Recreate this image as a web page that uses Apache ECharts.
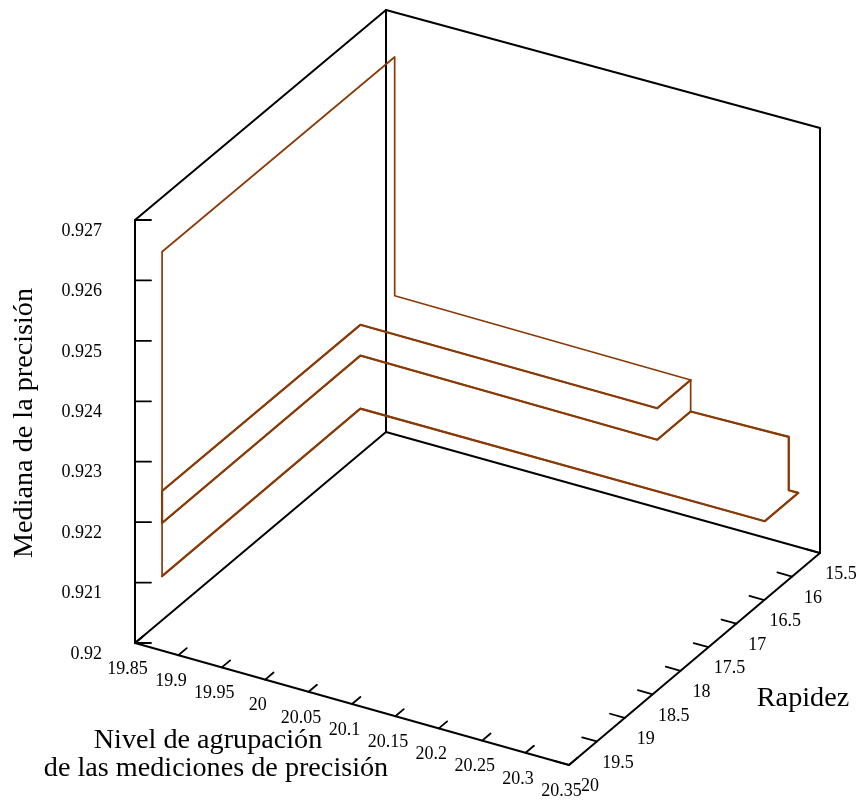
<!DOCTYPE html>
<html>
<head>
<meta charset="utf-8">
<style>html,body{margin:0;padding:0;background:#fff}#c{width:859px;height:800px}</style>
<script src="https://cdn.jsdelivr.net/npm/echarts@6/dist/echarts.min.js"></script>
</head>
<body>
<div id="c"></div>
<script>
// tick labels
const groupTicks = ['19.85','19.9','19.95','20','20.05','20.1','20.15','20.2','20.25','20.3','20.35'];
const speedTicks = ['20','19.5','19','18.5','18','17.5','17','16.5','16','15.5'];
const medianTicks = ['0.92','0.921','0.922','0.923','0.924','0.925','0.926','0.927'];

// the measured path, one array per dimension
const pathGroup  = [19.86,19.86,19.86,20.201,20.201,19.859,19.86,19.86,19.859,20.201,20.201,20.201,20.201,20.314,20.314,20.325,20.325,19.859,19.86,19.86];
const pathSpeed  = [19.67,15.5,15.5,15.5,16.1,16.1,19.67,19.67,16.1,16.1,15.5,15.5,15.5,15.5,15.5,15.5,16.1,16.1,19.67,19.67];
const pathMedian = [0.92626,0.92626,0.9223,0.92226,0.92226,0.92228,0.9223,0.92177,0.92177,0.92174,0.92174,0.92226,0.92174,0.92177,0.92089,0.92089,0.92089,0.92089,0.92089,0.92626];
// stretches of the path that are traced more than once (index range)
const retraced = [[3,10],[12,18]];

// 3D box, projected by interpolating between its eight screen corners
const G = [19.85,20.35], S = [20,15.5], M = [0.92,0.927];
const C = {
  '000':[135,643],'100':[569,765],'010':[386,432],'110':[820,553],
  '001':[135,220],'101':[569,341],'011':[386,10], '111':[820,128]
};
function project(g,s,m){
  const u=(g-G[0])/(G[1]-G[0]), v=(s-S[0])/(S[1]-S[0]), w=(m-M[0])/(M[1]-M[0]);
  const out=[0,0];
  for(const k in C){
    const f=(k[0]==='1'?u:1-u)*(k[1]==='1'?v:1-v)*(k[2]==='1'?w:1-w);
    out[0]+=f*C[k][0]; out[1]+=f*C[k][1];
  }
  return out;
}
const black='#000', brown='#8a3a06', serif='"Liberation Serif","Times New Roman",serif';
function line(pts,color,width){
  return {type:'line',data:pts,symbol:'none',silent:true,animation:false,clip:false,
    lineStyle:{color:color,width:width,cap:'round',join:'round',opacity:1}};
}
function text(items,size,extra){
  return {type:'scatter',symbolSize:0,silent:true,animation:false,clip:false,
    itemStyle:{opacity:1},
    data:items.map(i=>({value:[i[0],i[1]],name:i[2]})),
    label:Object.assign({show:true,position:'inside',formatter:p=>p.name,color:'#000',opacity:1,
      fontFamily:serif,fontSize:size,align:'center',verticalAlign:'middle'},extra||{})};
}
const corner=(a,b,c)=>project(G[a],S[b],M[c]);
const series=[];
// box edges
[[[0,0,1],[0,0,0],[1,0,0],[1,1,0],[1,1,1],[0,1,1],[0,0,1]],
 [[0,1,1],[0,1,0],[1,1,0]],[[0,1,0],[0,0,0]]].forEach(e=>{
  series.push(line(e.map(c=>corner(...c)),black,2));
});
// ticks + labels
const gl=[],sl=[],ml=[];
groupTicks.forEach(t=>{
  const a=project(+t,S[0],M[0]);
  series.push(line([a,project(+t,S[0]-0.15,M[0])],black,1.8));
  gl.push([a[0]-7.5,a[1]+26,t]);
});
speedTicks.forEach(t=>{
  const a=project(G[1],+t,M[0]);
  series.push(line([a,project(G[1]-0.017,+t,M[0])],black,1.8));
  sl.push([a[0]+21,a[1]+21.5,t]);
});
medianTicks.forEach(t=>{
  const a=project(G[0],S[0],+t);
  series.push(line([a,[a[0]+16,a[1]]],black,1.8));
  ml.push([a[0]-33,a[1]+11,t]);
});
series.push(text(gl,18),text(sl,18),text(ml,18,{align:'right'}));
// data path
const path=pathGroup.map((g,i)=>project(g,pathSpeed[i],pathMedian[i]));
series.push(line(path,brown,1.7));
retraced.forEach(r=>series.push(line(path.slice(r[0],r[1]+1),brown,2.2)));
// axis titles
series.push(text([[208,741,'Nivel de agrupación'],[216,769,'de las mediciones de precisión'],[803,699,'Rapidez']],28.2));
series.push(text([[25,423,'Mediana de la precisión']],28.2,{rotate:90}));

const chart=echarts.init(document.getElementById('c'),null,{renderer:'canvas'});
chart.setOption({
  animation:false,backgroundColor:'#fff',
  grid:{left:0,right:0,top:0,bottom:0,containLabel:false},
  xAxis:{type:'value',min:0,max:859,show:false},
  yAxis:{type:'value',min:0,max:800,inverse:true,show:false},
  series:series
});
</script>
</body>
</html>
